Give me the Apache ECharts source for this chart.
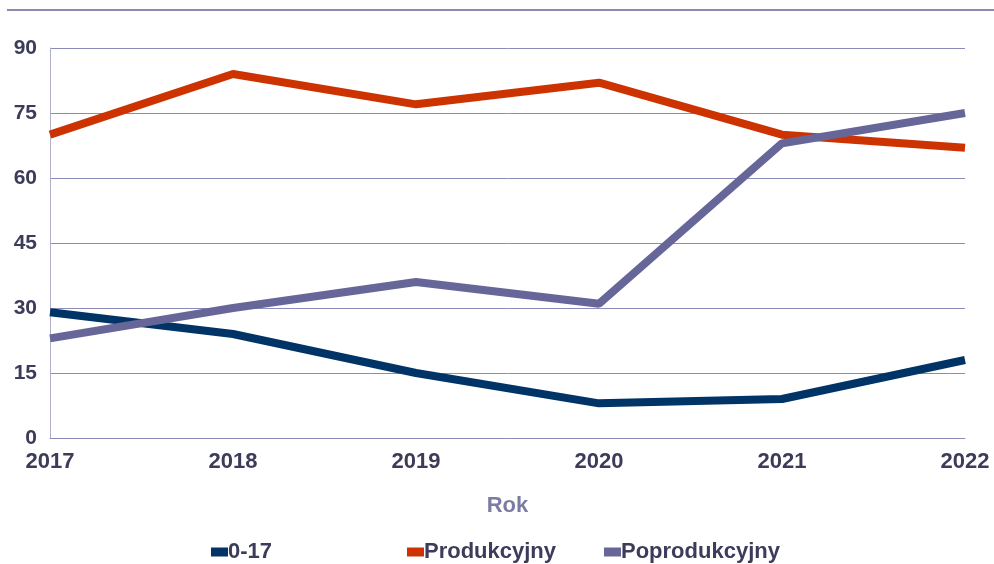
<!DOCTYPE html>
<html>
<head>
<meta charset="utf-8">
<script src="https://cdn.jsdelivr.net/npm/echarts@6/dist/echarts.min.js"></script>
<style>
  html, body { margin: 0; padding: 0; background: #fff; }
  #miGrafico { width: 994px; height: 564px; }
</style>
</head>
<body>
<div id="miGrafico"></div>
<script>
// datos
var years = ['2017', '2018', '2019', '2020', '2021', '2022'];
var seriesNames = ['0-17', 'Produkcyjny', 'Poprodukcyjny'];
var grupo017 = [29, 24, 15, 8, 9, 18];
var produkcyjny = [70, 84, 77, 82, 70, 67];
var poprodukcyjny = [23, 30, 36, 31, 68, 75];
var yTicks = [0, 15, 30, 45, 60, 75, 90];

var chartDom = document.getElementById('miGrafico');
var myChart = echarts.init(chartDom);

var textColor = '#3c3c5a';
var fontFam = '"Liberation Sans", Arial, sans-serif';
var colores = ['#003366', '#cc3300', '#666699'];

// una leyenda por serie (cada una en su columna)
var legendLefts = [211, 407, 604];
var legends = seriesNames.map(function (n, i) {
  return {
    left: legendLefts[i],
    top: 541,
    padding: 0,
    itemWidth: 17,
    itemHeight: 9,
    itemGap: 0,
    icon: 'rect',
    textStyle: {
      color: textColor,
      fontWeight: 'bold',
      fontSize: 22,
      fontFamily: fontFam,
      padding: [0, 0, 0, -5]
    },
    data: [n]
  };
});

var option = {
  backgroundColor: '#fff',
  animation: false,
  color: colores,
  graphic: [
    {
      type: 'line',
      shape: { x1: 7, y1: 10, x2: 994, y2: 10 },
      style: { stroke: '#8a8ab0', lineWidth: 2 }
    }
  ],
  grid: { left: 50, right: 29, top: 48, bottom: 126 },
  legend: legends,
  xAxis: {
    type: 'category',
    data: years,
    boundaryGap: false,
    name: 'Rok',
    nameLocation: 'middle',
    nameGap: 57,
    nameTextStyle: {
      color: '#7b7ba3',
      fontWeight: 'bold',
      fontSize: 22,
      fontFamily: fontFam
    },
    axisLine: { show: true, lineStyle: { color: '#8c8cbc', width: 1 } },
    axisTick: { show: false },
    axisLabel: {
      color: textColor,
      fontWeight: 'bold',
      fontSize: 22,
      fontFamily: fontFam,
      margin: 13
    }
  },
  yAxis: {
    type: 'value',
    min: yTicks[0],
    max: yTicks[yTicks.length - 1],
    interval: 15,
    axisLine: { show: true, lineStyle: { color: '#b0b0cc', width: 1 } },
    axisTick: { show: false },
    splitLine: { lineStyle: { color: '#8c8cbc', width: 1 } },
    axisLabel: {
      color: textColor,
      fontWeight: 'bold',
      fontSize: 21,
      fontFamily: fontFam,
      margin: 13,
      padding: [0, 0, 6, 0]
    }
  },
  series: [
    {
      name: seriesNames[0],
      type: 'line',
      data: grupo017,
      symbol: 'none',
      lineStyle: { width: 8 }
    },
    {
      name: seriesNames[1],
      type: 'line',
      data: produkcyjny,
      symbol: 'none',
      lineStyle: { width: 8 }
    },
    {
      name: seriesNames[2],
      type: 'line',
      data: poprodukcyjny,
      symbol: 'none',
      lineStyle: { width: 8 }
    }
  ]
};

myChart.setOption(option);

window.addEventListener('resize', function () {
  myChart.resize();
});
</script>
</body>
</html>
